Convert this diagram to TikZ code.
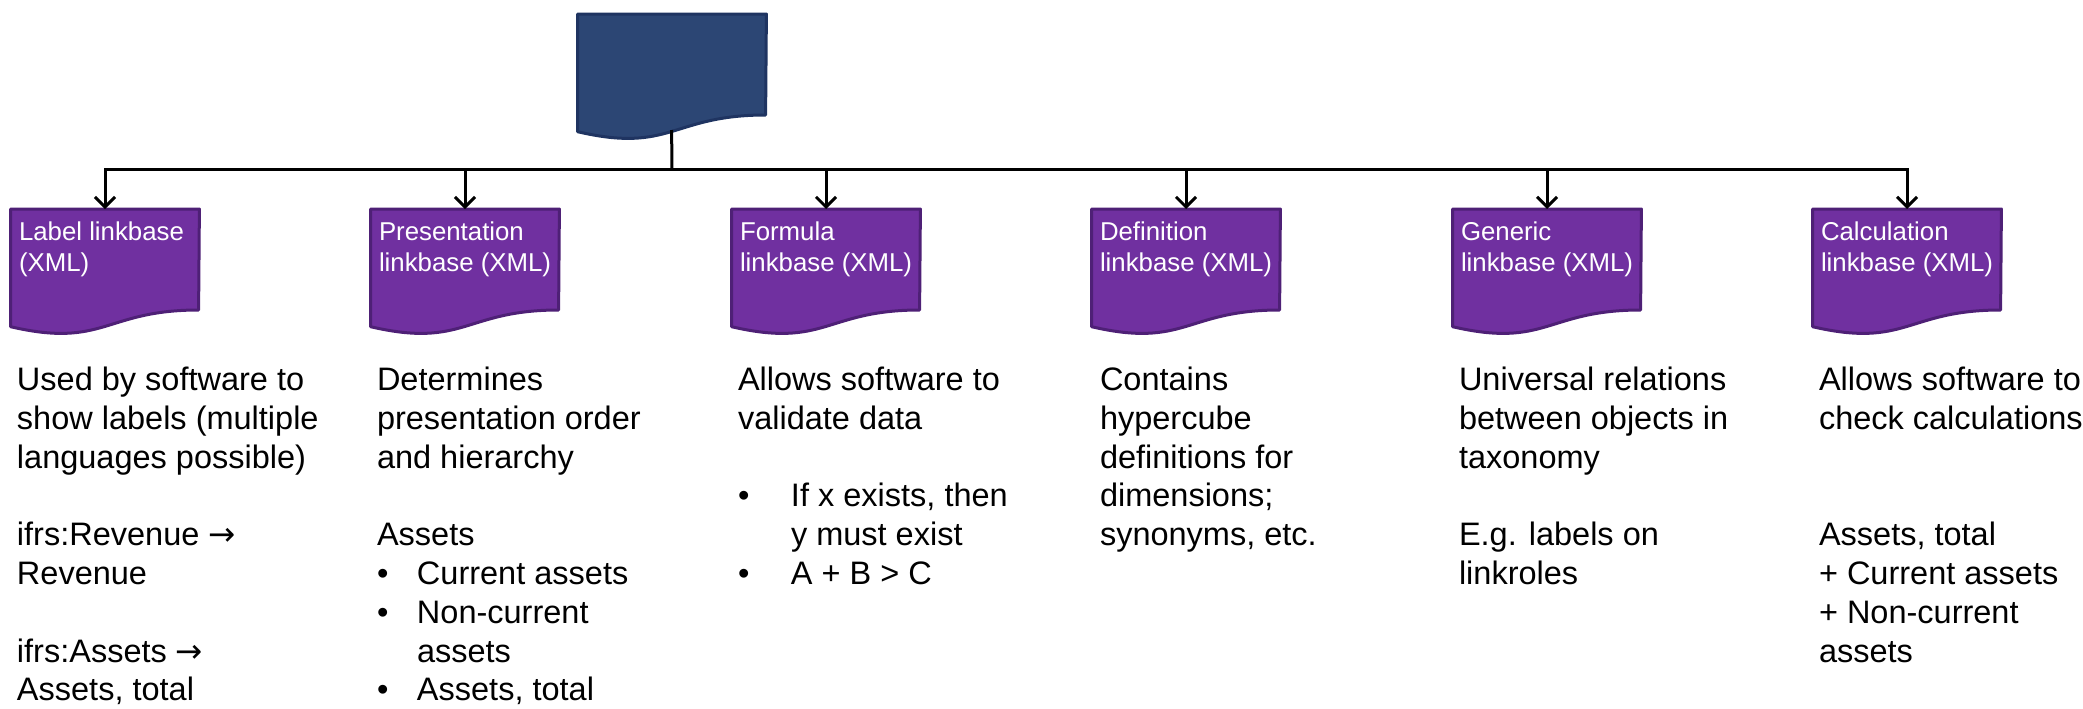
\documentclass[tikz,border=0pt]{standalone}
\usepackage{fontspec}
\setmainfont{Liberation Sans}
\newfontfamily\arrowfont{DejaVu Sans}
\usetikzlibrary{arrows.meta}
\definecolor{docblue}{HTML}{2C4674}
\definecolor{docblueline}{HTML}{1F3461}
\definecolor{docpurple}{HTML}{7030A0}
\definecolor{docpurpleline}{HTML}{4E2076}
\newcommand{\bodystrut}{\rule{0pt}{15pt}}
\newcommand{\headstrut}{\rule{0pt}{12pt}}
\newcommand{\mapsarrow}{{\arrowfont →}}

\begin{document}
\begin{tikzpicture}[x=0.5pt,y=-0.5pt,
  docnode/.style={shape=rectangle,minimum width=94pt,minimum height=63pt,inner sep=0pt,anchor=north},
  head/.style={anchor=north west,inner sep=0pt,align=left,text=white,font=\fontsize{12.9pt}{15.5pt}\selectfont},
  body/.style={anchor=north west,inner sep=0pt,align=left,font=\fontsize{16.25pt}{19.4pt}\selectfont},
  link/.style={line width=1.5pt},
  linkarrow/.style={link,-{Straight Barb[length=5pt,width=10pt]}}]
\useasboundingbox (0,0) rectangle (2083,708);

\node[docnode] (top) at (672,14) {};
\node[docnode] (lab) at (105,209) {};
\node[docnode] (pres) at (465,209) {};
\node[docnode] (form) at (826,209) {};
\node[docnode] (defi) at (1186,209) {};
\node[docnode] (gen) at (1547,209) {};
\node[docnode] (calc) at (1907,209) {};

\foreach \n/\c/\d in {top/docblue/docblueline,lab/docpurple/docpurpleline,pres/docpurple/docpurpleline,form/docpurple/docpurpleline,defi/docpurple/docpurpleline,gen/docpurple/docpurpleline,calc/docpurple/docpurpleline}
  \filldraw[fill=\c,draw=\d,line width=1.5pt,line join=round] (\n.north west) -- (\n.north east) -- ([shift={(188,101)}]\n.north west) .. controls ([shift={(94,101)}]\n.north west) and ([shift={(94,139.5)}]\n.north west) .. ([shift={(0,117.7)}]\n.north west) -- cycle;

\coordinate (stem) at ([shift={(94,116)}]top.north west);
\coordinate (hub) at (672,169);
\draw[link] (stem) -- (hub);
\foreach \n in {lab,pres,form,defi,gen,calc}
  \draw[linkarrow] (hub) -| (\n.north);

\node[head] (labhead) at ([shift={(8,7)}]lab.north west) {\headstrut Label linkbase\\(XML)};
\node[head] (preshead) at ([shift={(8,7)}]pres.north west) {\headstrut Presentation\\linkbase (XML)};
\node[head] (formhead) at ([shift={(8,7)}]form.north west) {\headstrut Formula\\linkbase (XML)};
\node[head] (defihead) at ([shift={(8,7)}]defi.north west) {\headstrut Definition\\linkbase (XML)};
\node[head] (genhead) at ([shift={(8,7)}]gen.north west) {\headstrut Generic\\linkbase (XML)};
\node[head] (calchead) at ([shift={(8,7)}]calc.north west) {\headstrut Calculation\\linkbase (XML)};

\node[body] (labtext) at ([shift={(6,151)}]lab.north west) {\bodystrut Used by software to\\show labels (multiple\\languages possible)\\[19.4pt]ifrs:Revenue \mapsarrow\\Revenue\\[19.4pt]ifrs:Assets \mapsarrow\\Assets, total};
\node[body] (prestext) at ([shift={(6,151)}]pres.north west) {\bodystrut Determines\\presentation order\\and hierarchy\\[19.4pt]Assets\\\makebox[20pt][l]{\textbullet}Current assets\\\makebox[20pt][l]{\textbullet}Non-current\\\hspace*{20pt}assets\\\makebox[20pt][l]{\textbullet}Assets, total};
\node[body] (formtext) at ([shift={(6,151)}]form.north west) {\bodystrut Allows software to\\validate data\\[19.4pt]\makebox[26.5pt][l]{\textbullet}If x exists, then\\\hspace*{26.5pt}y must exist\\\makebox[26.5pt][l]{\textbullet}A + B > C};
\node[body] (defitext) at ([shift={(8,151)}]defi.north west) {\bodystrut Contains\\hypercube\\definitions for\\dimensions;\\synonyms, etc.};
\node[body] (gentext) at ([shift={(6,151)}]gen.north west) {\bodystrut Universal relations\\between objects in\\taxonomy\\[19.4pt]E.g. labels on\\linkroles};
\node[body] (calctext) at ([shift={(6,151)}]calc.north west) {\bodystrut Allows software to\\check calculations\\[38.8pt]Assets, total\\+ Current assets\\+ Non-current\\assets};
\end{tikzpicture}
\end{document}
